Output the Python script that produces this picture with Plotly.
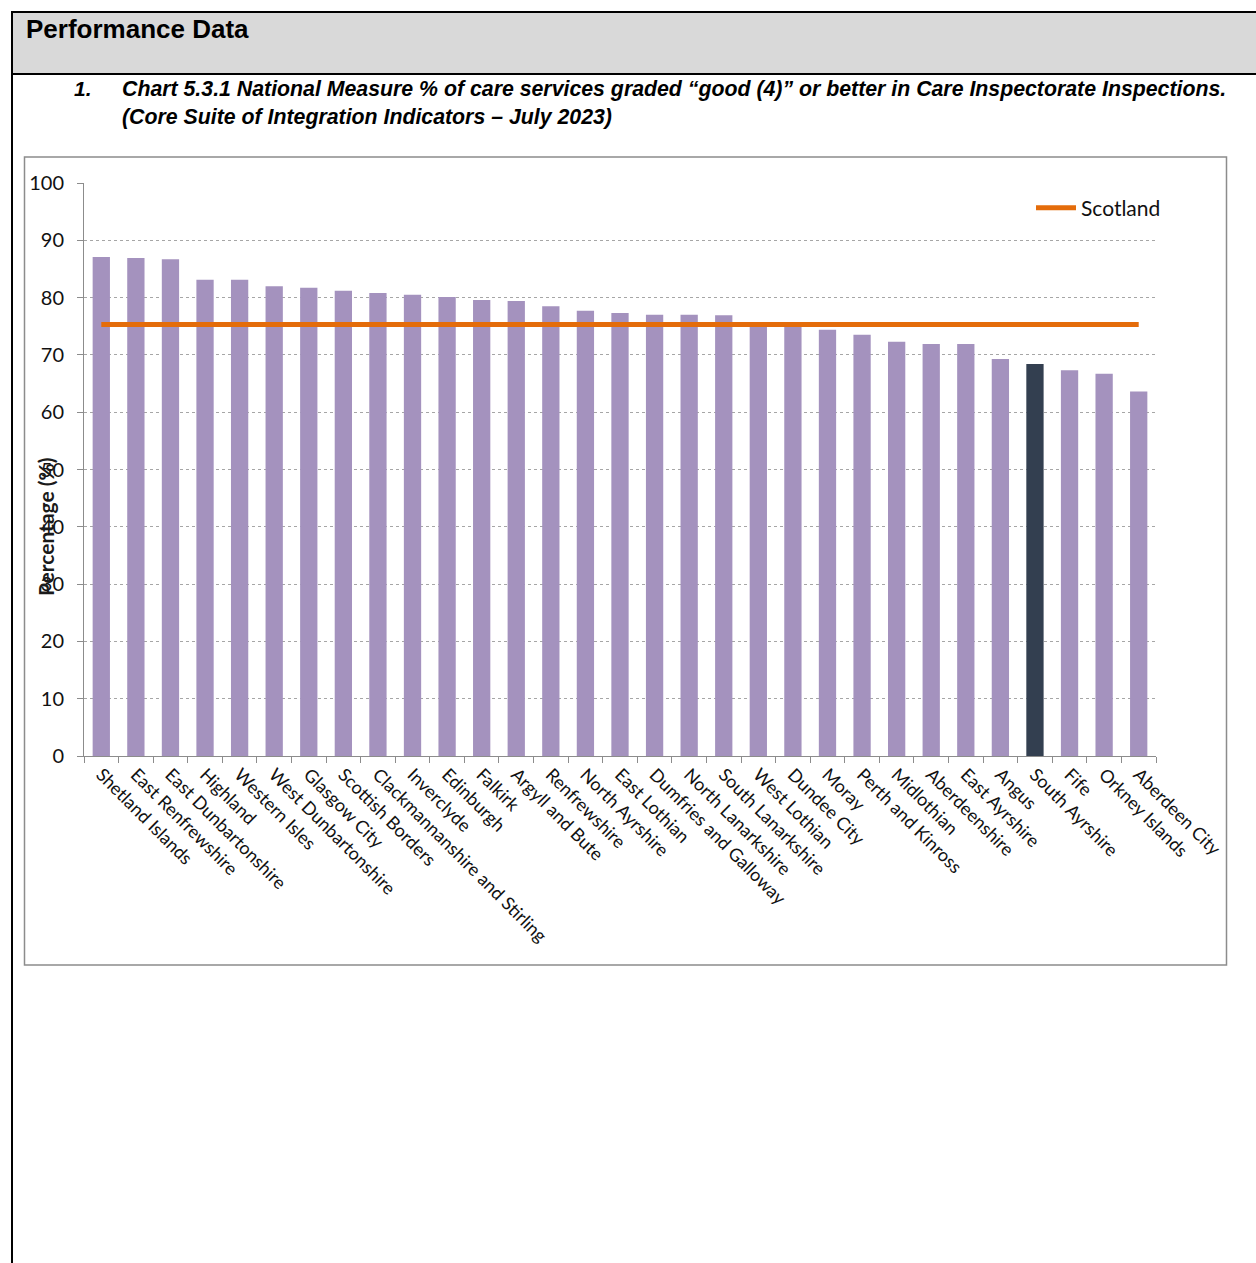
import plotly.graph_objects as go

W, H = 1256, 1263

areas = ["Shetland Islands", "East Renfrewshire", "East Dunbartonshire", "Highland",
         "Western Isles", "West Dunbartonshire", "Glasgow City", "Scottish Borders",
         "Clackmannanshire and Stirling", "Inverclyde", "Edinburgh", "Falkirk",
         "Argyll and Bute", "Renfrewshire", "North Ayrshire", "East Lothian",
         "Dumfries and Galloway", "North Lanarkshire", "South Lanarkshire", "West Lothian",
         "Dundee City", "Moray", "Perth and Kinross", "Midlothian", "Aberdeenshire",
         "East Ayrshire", "Angus", "South Ayrshire", "Fife", "Orkney Islands", "Aberdeen City"]
values = [87.1, 86.9, 86.7, 83.1, 83.1, 82.0, 81.7, 81.2, 80.8, 80.5, 80.1, 79.6,
          79.4, 78.5, 77.7, 77.3, 77.0, 77.0, 76.9, 75.5, 75.3, 74.4, 73.5, 72.3,
          71.9, 71.9, 69.3, 68.4, 67.3, 66.7, 63.6]
highlight = "South Ayrshire"
scotland_value = 75.3
y_ticks = [0, 10, 20, 30, 40, 50, 60, 70, 80, 90, 100]

bar_colors = ["#333f50" if a == highlight else "#a492be" for a in areas]

fig = go.Figure()
fig.add_trace(go.Bar(x=areas, y=values, marker=dict(color=bar_colors, line=dict(width=0)),
                     width=0.5, showlegend=False))
fig.add_trace(go.Scatter(x=areas, y=[scotland_value] * len(areas), mode="lines",
                         line=dict(color="#e46c0a", width=5), name="Scotland"))

def px(x):
    return x / W

def py(y):
    return 1 - y / H

shapes = [
    dict(type="rect", xref="paper", yref="paper", x0=px(12), x1=px(1262), y0=py(74), y1=py(12),
         fillcolor="#d9d9d9", line=dict(color="black", width=2), layer="below"),
    dict(type="line", xref="paper", yref="paper", x0=px(12), x1=px(12), y0=py(1266), y1=py(12),
         line=dict(color="black", width=2)),
    dict(type="rect", xref="paper", yref="paper", x0=px(24.5), x1=px(1226.5), y0=py(965), y1=py(157),
         line=dict(color="#8c8c8c", width=1.5)),
]

annotations = [
    dict(text="<b>Performance Data</b>", x=px(24), y=py(29), xref="paper", yref="paper",
         xanchor="left", yanchor="middle", showarrow=False,
         font=dict(family="Liberation Sans", size=26, color="black")),
    dict(text="<b><i>1.</i></b>", x=px(72), y=py(89), xref="paper", yref="paper",
         xanchor="left", yanchor="middle", showarrow=False,
         font=dict(family="Liberation Sans", size=21, color="black")),
    dict(text="<b><i>Chart 5.3.1 National Measure % of care services graded \u201cgood (4)\u201d or better in Care Inspectorate Inspections.</i></b>",
         x=px(120), y=py(89), xref="paper", yref="paper",
         xanchor="left", yanchor="middle", showarrow=False,
         font=dict(family="Liberation Sans", size=21.3, color="black")),
    dict(text="<b><i>(Core Suite of Integration Indicators \u2013 July 2023)</i></b>",
         x=px(120), y=py(117), xref="paper", yref="paper",
         xanchor="left", yanchor="middle", showarrow=False,
         font=dict(family="Liberation Sans", size=21.3, color="black")),
    dict(text="<b>Percentage (%)</b>", x=px(45), y=py(527), xref="paper", yref="paper",
         xanchor="center", yanchor="middle", showarrow=False, textangle=-90,
         font=dict(family="Lato", size=21, color="#1a1a1a")),
]

fig.update_layout(
    width=W, height=H,
    margin=dict(l=0, r=0, t=0, b=0, autoexpand=False),
    paper_bgcolor="white", plot_bgcolor="white",
    shapes=shapes, annotations=annotations,
    bargap=0.5,
    xaxis=dict(domain=[px(84), px(1156)], type="category", tickangle=45, automargin=False,
               showline=True, linecolor="#8c8c8c", linewidth=1,
               ticks="outside", ticklen=6, tickcolor="#8c8c8c", tickson="boundaries",
               showgrid=False,
               tickfont=dict(family="Lato", size=18, color="#111111")),
    yaxis=dict(domain=[py(756), py(183)], range=[0, 100], tickvals=y_ticks, automargin=False,
               showline=True, linecolor="#8c8c8c", linewidth=1,
               ticks="outside", ticklen=6, tickcolor="#8c8c8c", ticklabelstandoff=9,
               showgrid=True, gridcolor="#a6a6a6", griddash="dot", gridwidth=1,
               zeroline=False,
               tickfont=dict(family="Lato", size=20, color="#111111")),
    legend=dict(x=px(1031), y=py(208), xanchor="left", yanchor="middle",
                bgcolor="rgba(0,0,0,0)", font=dict(family="Lato", size=21, color="#111111"),
                itemwidth=40),
    showlegend=True,
)

fig.write_html("out.html")
